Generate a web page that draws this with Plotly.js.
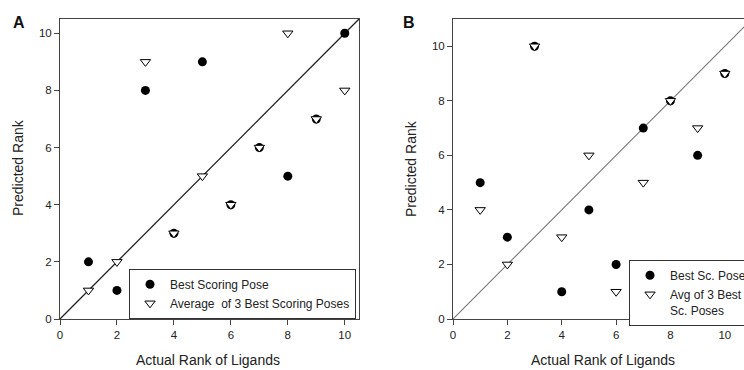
<!DOCTYPE html>
<html>
<head>
<meta charset="utf-8">
<script src="https://cdn.plot.ly/plotly-3.0.1.min.js"></script>
<style>
html,body{margin:0;padding:0;overflow:hidden;background:#fff;width:744px;height:370px;}
#chart{width:760px;height:370px;}
</style>
</head>
<body>
<div id="chart"></div>
<script>
// Panel A data
const actualA = [1,2,3,4,5,6,7,8,9,10];
const bestPoseA = [2,1,8,3,9,4,6,5,7,10];
const avg3A = [1,2,9,3,5,4,6,10,7,8];
const diagA = [0,10.5];
// Panel B data
const actualB = [1,2,3,4,5,6,7,8,9,10];
const bestPoseB = [5,3,10,1,4,2,7,8,6,9];
const avg3B = [4,2,10,3,6,1,5,8,7,9];
const diagB = [0,11];
const tickVals = [0,2,4,6,8,10];
const tickText = ['0','2','4','6','8','10'];

const W = 760, H = 370;
const px = v => v / W;
const py = v => 1 - v / H;
const FONT = 'Liberation Sans, Arial, sans-serif';

const circ = {symbol:'circle', size:9, color:'#000'};
const tri = {symbol:'triangle-down', size:9, color:'#fff', line:{color:'#000', width:1}};

const traces = [
  {x:diagA, y:diagA, mode:'lines', line:{color:'#222', width:1.3}, xaxis:'x', yaxis:'y', showlegend:false, hoverinfo:'skip'},
  {x:actualA, y:bestPoseA, mode:'markers', marker:circ, name:'Best Scoring Pose', xaxis:'x', yaxis:'y', legend:'legend'},
  {x:actualA, y:avg3A, mode:'markers', marker:tri, name:'Average  of 3 Best Scoring Poses', xaxis:'x', yaxis:'y', legend:'legend'},
  {x:diagB, y:diagB, mode:'lines', line:{color:'#777', width:1.1}, xaxis:'x2', yaxis:'y2', showlegend:false, hoverinfo:'skip'},
  {x:actualB, y:bestPoseB, mode:'markers', marker:circ, name:'Best Sc. Pose', xaxis:'x2', yaxis:'y2', legend:'legend2'},
  {x:actualB, y:avg3B, mode:'markers', marker:tri, name:'Avg of 3 Best<br>Sc. Poses', xaxis:'x2', yaxis:'y2', legend:'legend2'}
];

const axisBase = {
  showgrid:false, zeroline:false, showline:true, mirror:true, linecolor:'#444', linewidth:1,
  ticks:'outside', ticklen:5, tickcolor:'#444', tickwidth:1,
  tickvals:tickVals, ticktext:tickText,
  tickfont:{family:FONT, size:11.5, color:'#222'},
  automargin:false, fixedrange:true
};
const yDom = [py(319), py(19)];

const legBase = {
  bgcolor:'#fff', bordercolor:'#333', borderwidth:1,
  font:{family:FONT, size:12, color:'#222'},
  xanchor:'left', yanchor:'top', tracegroupgap:0, valign:'top'
};

const titleFont = {family:FONT, size:14, color:'#222'};
const ann = (text, x, y, font, angle) => ({text:text, x:px(x), y:py(y), xref:'paper', yref:'paper', xanchor:'center', yanchor:'middle', showarrow:false, textangle:angle||0, font:font});
const labFont = {family:FONT, size:16, color:'#111'};

const layout = {
  width:W, height:H, margin:{l:0,r:0,t:0,b:0},
  paper_bgcolor:'#fff', plot_bgcolor:'#fff', showlegend:true,
  xaxis: Object.assign({}, axisBase, {domain:[px(60), px(359)], range:[0,10.5], anchor:'y'}),
  yaxis: Object.assign({}, axisBase, {domain:yDom, range:[0,10.5], anchor:'x'}),
  xaxis2: Object.assign({}, axisBase, {domain:[px(453), px(752)], range:[0,11], anchor:'y2'}),
  yaxis2: Object.assign({}, axisBase, {domain:yDom, range:[0,11], anchor:'x2'}),
  legend: Object.assign({}, legBase, {x:px(129), y:py(269)}),
  legend2: Object.assign({}, legBase, {x:px(629), y:py(260)}),
  annotations:[
    ann('<b>A</b>', 19, 22, labFont),
    ann('<b>B</b>', 409, 22, labFont),
    ann('Predicted Rank', 18, 168, titleFont, -90),
    ann('Predicted Rank', 411, 168, titleFont, -90),
    ann('Actual Rank of Ligands', 208, 360, titleFont),
    ann('Actual Rank of Ligands', 603, 360, titleFont)
  ]
};

Plotly.newPlot('chart', traces, layout, {staticPlot:true, displayModeBar:false});
</script>
</body>
</html>
